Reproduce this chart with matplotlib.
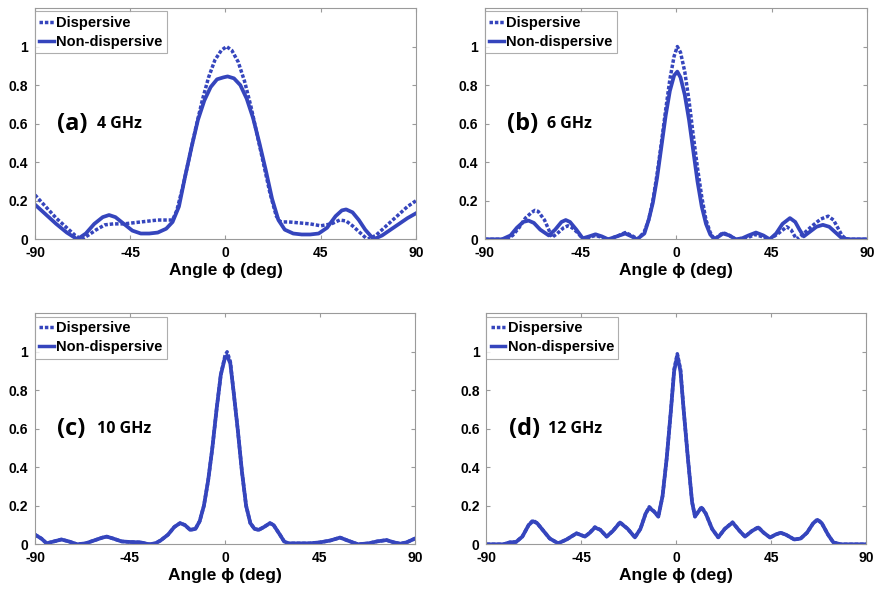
import matplotlib
matplotlib.use("Agg")
import matplotlib.pyplot as plt

# ---------------- data: normalized radiation patterns ----------------
# (a) 4 GHz
a_ang_nd = [-90, -85, -80, -75, -70, -66, -62, -58, -55, -52, -48, -44, -40, -36, -32, -28, -25,
            -22, -19, -16, -13, -10, -7, -4, -1, 1, 4, 7, 10, 13, 16, 19, 22, 25, 28, 32, 36,
            40, 44, 48, 52, 55, 57, 60, 63, 66, 70, 74, 78, 82, 86, 90]
a_val_nd = [0.18, 0.13, 0.08, 0.035, 0.0, 0.03, 0.08, 0.115, 0.126, 0.115, 0.08, 0.045, 0.03,
            0.03, 0.035, 0.055, 0.09, 0.17, 0.33, 0.48, 0.62, 0.72, 0.79, 0.83, 0.84, 0.845,
            0.835, 0.80, 0.73, 0.63, 0.50, 0.36, 0.21, 0.10, 0.05, 0.03, 0.025, 0.025, 0.03,
            0.06, 0.12, 0.15, 0.155, 0.14, 0.10, 0.05, 0.0, 0.02, 0.05, 0.08, 0.11, 0.135]
a_ang_d = [-90, -85, -80, -75, -71, -68, -65, -61, -57, -53, -48, -44, -40, -36, -32, -28, -25,
           -23, -20, -17, -14, -11, -8, -5, -2, 0.5, 3, 6, 9, 12, 15, 18, 21, 24, 26, 30, 35,
           40, 45, 50, 54, 57, 60, 64, 67, 71, 76, 82, 86, 90]
a_val_d = [0.23, 0.17, 0.11, 0.06, 0.02, 0.0, 0.02, 0.05, 0.075, 0.08, 0.08, 0.085, 0.09, 0.095,
           0.10, 0.10, 0.10, 0.15, 0.28, 0.43, 0.58, 0.72, 0.84, 0.93, 0.98, 1.0, 0.98, 0.92,
           0.82, 0.69, 0.54, 0.39, 0.24, 0.12, 0.09, 0.09, 0.085, 0.08, 0.07, 0.08, 0.10,
           0.095, 0.07, 0.03, 0.0, 0.02, 0.07, 0.13, 0.17, 0.20]

# (b) 6 GHz
b_ang_nd = [-90, -82, -78, -75, -72, -69.5, -67, -64, -60, -57, -54, -52, -50, -47, -44, -41,
            -38, -35, -32, -28, -24, -21, -18.5, -15, -13, -11, -9, -7, -5, -3, -1, 0.5, 2, 4,
            6, 8, 10, 12, 14, 16, 18, 22, 25, 28, 31, 34, 37.5, 41, 44, 47, 50, 53.5, 56, 58,
            60, 63, 66, 69, 72, 75, 78, 82, 90]
b_val_nd = [0.0, 0.0, 0.02, 0.06, 0.09, 0.097, 0.085, 0.05, 0.02, 0.05, 0.09, 0.10, 0.09, 0.05,
            0.005, 0.015, 0.026, 0.015, 0.0, 0.015, 0.03, 0.015, 0.0, 0.03, 0.10, 0.19, 0.32,
            0.48, 0.64, 0.77, 0.85, 0.87, 0.84, 0.75, 0.62, 0.46, 0.30, 0.17, 0.08, 0.025, 0.0,
            0.03, 0.02, 0.0, 0.005, 0.02, 0.035, 0.02, 0.0, 0.03, 0.08, 0.11, 0.09, 0.05,
            0.015, 0.04, 0.065, 0.075, 0.065, 0.035, 0.005, 0.0, 0.0]
b_ang_d = [-90, -80, -77, -74, -71, -68, -66.5, -65, -62, -60, -58.5, -56, -53, -51, -49, -46,
           -44, -41, -38, -35, -32, -28, -24, -21, -18, -15, -13, -11, -9, -7, -5, -3, -1, 0.5,
           2, 4, 6, 8, 10, 12, 14, 16, 18, 22, 25, 28, 34, 37, 40, 44, 48, 52, 54, 56.6, 60,
           64, 68, 71.5, 74, 76, 78, 80, 90]
b_val_d = [0.0, 0.0, 0.02, 0.06, 0.11, 0.14, 0.15, 0.145, 0.10, 0.05, 0.01, 0.03, 0.06, 0.07,
           0.06, 0.03, 0.0, 0.01, 0.02, 0.01, 0.0, 0.015, 0.035, 0.02, 0.0, 0.04, 0.10, 0.20,
           0.34, 0.50, 0.67, 0.83, 0.95, 1.0, 0.97, 0.87, 0.72, 0.54, 0.37, 0.22, 0.10, 0.035,
           0.0, 0.035, 0.02, 0.0, 0.01, 0.025, 0.015, 0.0, 0.03, 0.065, 0.05, 0.0, 0.03, 0.07,
           0.105, 0.12, 0.10, 0.06, 0.02, 0.0, 0.0]

# (c) 10 GHz
c_ang = [-90, -87, -84.5, -81, -77.5, -74, -70, -66, -62, -58, -56, -53, -49, -45, -40, -36,
         -33, -30.5, -27, -24, -21.3, -19, -16.5, -14, -12, -10, -8, -6, -4, -2, 0, 1, 2.5, 4,
         6, 8, 10, 12, 14, 16, 18.5, 21.3, 23, 26, 28, 30, 35, 40, 45, 50, 54.5, 58, 63, 68,
         72, 76.5, 80, 83, 86, 90]
c_val_nd = [0.05, 0.03, 0.005, 0.015, 0.025, 0.015, 0.0, 0.005, 0.02, 0.035, 0.04, 0.03, 0.015,
            0.012, 0.01, 0.0, 0.005, 0.02, 0.05, 0.09, 0.11, 0.10, 0.075, 0.08, 0.12, 0.20,
            0.33, 0.50, 0.70, 0.88, 0.97, 0.98, 0.94, 0.80, 0.60, 0.38, 0.20, 0.11, 0.08,
            0.075, 0.09, 0.11, 0.10, 0.05, 0.015, 0.005, 0.005, 0.005, 0.01, 0.02, 0.035, 0.02,
            0.0, 0.005, 0.015, 0.022, 0.01, 0.003, 0.01, 0.03]
c_val_d = [0.05, 0.03, 0.005, 0.015, 0.025, 0.015, 0.0, 0.005, 0.02, 0.035, 0.04, 0.03, 0.015,
           0.012, 0.01, 0.0, 0.005, 0.02, 0.05, 0.09, 0.11, 0.10, 0.075, 0.08, 0.12, 0.20,
           0.33, 0.50, 0.70, 0.88, 0.98, 1.0, 0.95, 0.80, 0.60, 0.38, 0.20, 0.11, 0.08,
           0.075, 0.09, 0.11, 0.10, 0.05, 0.015, 0.005, 0.005, 0.005, 0.01, 0.02, 0.035, 0.02,
           0.0, 0.005, 0.015, 0.022, 0.01, 0.003, 0.01, 0.03]

# (d) 12 GHz
d_ang = [-90, -82, -79, -76, -73, -70, -68, -66, -63, -60, -56, -52, -47.3, -43.3, -41, -38.6,
         -36, -33, -30, -26.7, -23, -19.6, -17, -14.5, -12.8, -10.5, -8.5, -6.5, -4.5, -2.5,
         -1, 0.5, 2, 3.5, 5.5, 7.5, 8.9, 10.5, 12, 14, 17, 19.9, 23, 26.7, 30, 32.6, 36, 38.9,
         41.5, 44.5, 47, 49.5, 52, 56, 59, 62, 65, 67, 69, 72, 74.5, 78, 90]
d_val_nd = [0.0, 0.0, 0.01, 0.012, 0.04, 0.10, 0.12, 0.11, 0.07, 0.03, 0.005, 0.025, 0.057,
            0.04, 0.06, 0.087, 0.075, 0.04, 0.07, 0.113, 0.08, 0.036, 0.08, 0.16, 0.19, 0.17,
            0.144, 0.25, 0.45, 0.70, 0.90, 0.98, 0.90, 0.70, 0.45, 0.22, 0.144, 0.17, 0.19,
            0.16, 0.08, 0.036, 0.08, 0.113, 0.07, 0.04, 0.07, 0.087, 0.06, 0.035, 0.05, 0.06,
            0.05, 0.025, 0.03, 0.06, 0.11, 0.127, 0.11, 0.05, 0.01, 0.0, 0.0]
d_val_d = [0.0, 0.0, 0.01, 0.012, 0.04, 0.10, 0.125, 0.11, 0.07, 0.03, 0.005, 0.025, 0.057,
           0.04, 0.06, 0.09, 0.075, 0.04, 0.07, 0.115, 0.08, 0.036, 0.08, 0.16, 0.195, 0.17,
           0.144, 0.25, 0.45, 0.70, 0.91, 0.99, 0.91, 0.70, 0.45, 0.22, 0.144, 0.17, 0.195,
           0.16, 0.08, 0.036, 0.08, 0.115, 0.07, 0.04, 0.07, 0.09, 0.06, 0.035, 0.05, 0.06,
           0.05, 0.025, 0.03, 0.06, 0.11, 0.13, 0.11, 0.05, 0.01, 0.0, 0.0]

panel_tags = ["(a)", "(b)", "(c)", "(d)"]
panel_freqs = ["4 GHz", "6 GHz", "10 GHz", "12 GHz"]
series_names = ["Dispersive", "Non-dispersive"]
x_ticks = [-90, -45, 0, 45, 90]
y_ticks = [0, 0.2, 0.4, 0.6, 0.8, 1]
y_tick_labels = ["0", "0.2", "0.4", "0.6", "0.8", "1"]

panels = [
    (a_ang_d, a_val_d, a_ang_nd, a_val_nd),
    (b_ang_d, b_val_d, b_ang_nd, b_val_nd),
    (c_ang, c_val_d, c_ang, c_val_nd),
    (d_ang, d_val_d, d_ang, d_val_nd),
]

# ---------------- figure ----------------
W, H = 878, 595
fig = plt.figure(figsize=(W / 100, H / 100), dpi=100)

# axes boxes in pixel coordinates: left, right, top, bottom
boxes = [(35, 416, 8, 239.3), (485, 867.5, 8, 239.3),
         (35, 415, 313.3, 544.3), (486.5, 866, 313.3, 544.3)]

LINE = "#3545bd"
GRID = "#9a9a9a"
tick_font = dict(family=["Liberation Sans", "DejaVu Sans"], weight="bold", size=10)

for (l, r, t, b), (xd, yd, xn, yn), tag, freq in zip(boxes, panels, panel_tags, panel_freqs):
    ax = fig.add_axes([l / W, 1 - b / H, (r - l) / W, (b - t) / H])
    ax.plot(xd, yd, color=LINE, lw=2.5, linestyle=(0, (1.0, 0.55)), label=series_names[0],
            solid_joinstyle="round")
    ax.plot(xn, yn, color=LINE, lw=2.7, linestyle="-", label=series_names[1],
            solid_joinstyle="round")
    ax.set_xlim(-90, 90)
    ax.set_ylim(0, 1.2)
    ax.set_xticks(x_ticks)
    ax.set_xticklabels([str(v) for v in x_ticks], **tick_font)
    ax.set_yticks(y_ticks)
    ax.set_yticklabels(y_tick_labels, **tick_font)
    ax.tick_params(direction="in", length=3, width=0.8, color=GRID,
                   top=True, right=True, pad=5)
    for s in ax.spines.values():
        s.set_color(GRID)
        s.set_linewidth(0.8)
    ax.set_xlabel("Angle ϕ (deg)", family=["Liberation Sans", "DejaVu Sans"],
                  weight="bold", size=12.5, labelpad=2)

    leg = ax.legend(loc="upper left", bbox_to_anchor=(0.0, 0.985), borderaxespad=0,
                    fancybox=False, frameon=True, handlelength=1.0, handletextpad=0.15,
                    labelspacing=0.35, borderpad=0.3,
                    prop=dict(family="Liberation Sans", weight="bold", size=10.5))
    leg.get_frame().set_edgecolor(GRID)
    leg.get_frame().set_linewidth(0.8)
    for h in leg.get_lines():
        h.set_linewidth(2.5)

    ax.text(-79.5, 0.6, tag, family="Open Sans", weight="bold", size=17,
            va="center", ha="left")
    ax.text(-60.8, 0.6, freq, family="Open Sans", weight="bold", size=11.5,
            va="center", ha="left")

fig.savefig("out.png", dpi=100)
